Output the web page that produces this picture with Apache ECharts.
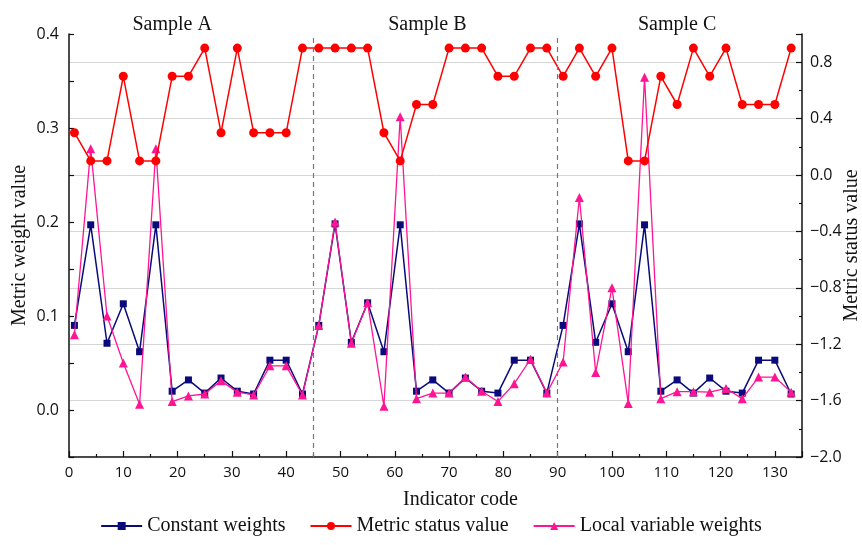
<!DOCTYPE html>
<html>
<head>
<meta charset="utf-8">
<script src="https://cdn.jsdelivr.net/npm/echarts@6/dist/echarts.min.js"></script>
<style>html,body{margin:0;padding:0;background:#fff;}#c{width:862px;height:545px;}</style>
</head>
<body>
<div id="c"></div>
<script>
const indicatorCodes = [1,4,7,10,13,16,19,22,25,28,31,34,37,40,43,
  46,49,52,55,58,61,64,67,70,73,76,79,82,85,88,
  91,94,97,100,103,106,109,112,115,118,121,124,127,130,133];
const constantWeights = [0.090,0.197,0.071,0.113,0.062,0.197,0.020,0.032,0.018,0.034,0.020,0.017,0.053,0.053,0.017,
  0.090,0.198,0.072,0.114,0.062,0.197,0.020,0.032,0.018,0.034,0.020,0.018,0.053,0.053,0.018,
  0.090,0.198,0.072,0.113,0.062,0.197,0.020,0.032,0.018,0.034,0.020,0.018,0.053,0.053,0.017];
const metricStatus = [0.3,0.1,0.1,0.7,0.1,0.1,0.7,0.7,0.9,0.3,0.9,0.3,0.3,0.3,0.9,
  0.9,0.9,0.9,0.9,0.3,0.1,0.5,0.5,0.9,0.9,0.9,0.7,0.7,0.9,0.9,
  0.7,0.9,0.7,0.9,0.1,0.1,0.7,0.5,0.9,0.7,0.9,0.5,0.5,0.5,0.9];
const localWeights = [0.080,0.278,0.100,0.050,0.006,0.278,0.009,0.015,0.017,0.031,0.019,0.016,0.047,0.047,0.016,
  0.090,0.200,0.071,0.114,0.004,0.312,0.012,0.018,0.018,0.035,0.020,0.009,0.028,0.054,0.018,
  0.051,0.226,0.040,0.130,0.007,0.354,0.012,0.0195,0.0195,0.019,0.023,0.012,0.035,0.035,0.019];
const sampleNames = ['Sample A','Sample B','Sample C'];
const sampleLabelX = [19, 66, 112];
const sampleBoundaries = [45, 90];

const pair = arr => indicatorCodes.map((x, i) => [x, arr[i]]);
const serif = '"Liberation Serif", "Times New Roman", serif';
const sans = '"Open Sans", "Noto Sans", sans-serif';
const minus = v => String(v).replace('-', '\u2212');

const chart = echarts.init(document.getElementById('c'), null, {renderer: 'canvas'});
const option = {
  animation: false,
  backgroundColor: '#fff',
  grid: {left: 69, right: 60, top: 34, bottom: 88, containLabel: false, outerBoundsMode: 'none'},
  legend: {
    bottom: 4, left: 'center', itemWidth: 41, itemHeight: 10, itemGap: 24,
    textStyle: {fontFamily: serif, fontSize: 20, color: '#111'},
    data: ['Constant weights', 'Metric status value', 'Local variable weights']
  },
  xAxis: {
    type: 'value', min: 0, max: 135, interval: 10,
    name: 'Indicator code', nameLocation: 'middle', nameGap: 33, nameMoveOverlap: false,
    nameTextStyle: {fontFamily: serif, fontSize: 20, color: '#111', padding: [0, 0, 0, 50]},
    axisLine: {onZero: false, lineStyle: {color: '#111', width: 1.5}},
    axisTick: {inside: true, length: 6, lineStyle: {color: '#111', width: 1.2}},
    minorTick: {show: true, splitNumber: 2, length: 3, lineStyle: {color: '#111', width: 1.2}},
    axisLabel: {fontFamily: sans, fontSize: 15, color: '#111', margin: 8, showMaxLabel: false},
    splitLine: {show: false}
  },
  yAxis: [{
    type: 'value', min: -0.05, max: 0.4, interval: 0.05,
    name: 'Metric weight value', nameLocation: 'middle', nameGap: 39, nameMoveOverlap: false,
    nameTextStyle: {fontFamily: serif, fontSize: 20, color: '#111'},
    axisLine: {show: true, onZero: false, lineStyle: {color: '#111', width: 1.5}},
    axisTick: {inside: true, length: 5, lineStyle: {color: '#111', width: 1.2}},
    axisLabel: {fontFamily: sans, fontSize: 16, color: '#111', margin: 10,
      formatter: v => (Math.abs(v * 10 - Math.round(v * 10)) < 1e-6 ? v.toFixed(1) : '')},
    splitLine: {show: false}
  }, {
    type: 'value', min: -2, max: 1, interval: 0.4, position: 'right',
    name: 'Metric status value', nameLocation: 'middle', nameGap: 40, nameMoveOverlap: false,
    nameTextStyle: {fontFamily: serif, fontSize: 20, color: '#111'},
    axisLine: {show: true, onZero: false, lineStyle: {color: '#111', width: 1.5}},
    axisTick: {inside: true, length: 6, lineStyle: {color: '#111', width: 1.2}},
    minorTick: {show: true, splitNumber: 2, length: 3, lineStyle: {color: '#111', width: 1.2}},
    axisLabel: {fontFamily: sans, fontSize: 16, color: '#111', margin: 8, showMaxLabel: false,
      formatter: v => minus(v.toFixed(1))},
    splitLine: {show: true, showMinLine: false, showMaxLine: false, lineStyle: {color: '#d6d6d6', width: 1}}
  }],
  series: [{
    name: 'Constant weights', type: 'line', yAxisIndex: 0, z: 2,
    data: pair(constantWeights), symbol: 'rect', symbolSize: 7,
    lineStyle: {color: '#0a0a7a', width: 1.5}, itemStyle: {color: '#0a0a7a'},
    markLine: {
      silent: true, symbol: 'none', label: {show: false},
      lineStyle: {color: '#777', type: [5, 4], width: 1.2},
      data: sampleBoundaries.map(x => ({xAxis: x}))
    }
  }, {
    name: 'Metric status value', type: 'line', yAxisIndex: 1, z: 4,
    data: pair(metricStatus), symbol: 'circle', symbolSize: 9,
    lineStyle: {color: '#ff0000', width: 1.5}, itemStyle: {color: '#ff0000'}
  }, {
    name: 'Local variable weights', type: 'line', yAxisIndex: 0, z: 3,
    data: pair(localWeights), symbol: 'triangle', symbolSize: 9,
    lineStyle: {color: '#ff1493', width: 1.3}, itemStyle: {color: '#ff1493'}
  }]
};
chart.setOption(option);
const labels = sampleNames.map((n, i) => {
  const p = chart.convertToPixel({xAxisIndex: 0}, sampleLabelX[i]);
  return {type: 'text', x: p, y: 25, style: {text: n, font: '20px ' + serif, fill: '#111', align: 'center', verticalAlign: 'middle'}};
});
chart.setOption({graphic: labels});
</script>
</body>
</html>
